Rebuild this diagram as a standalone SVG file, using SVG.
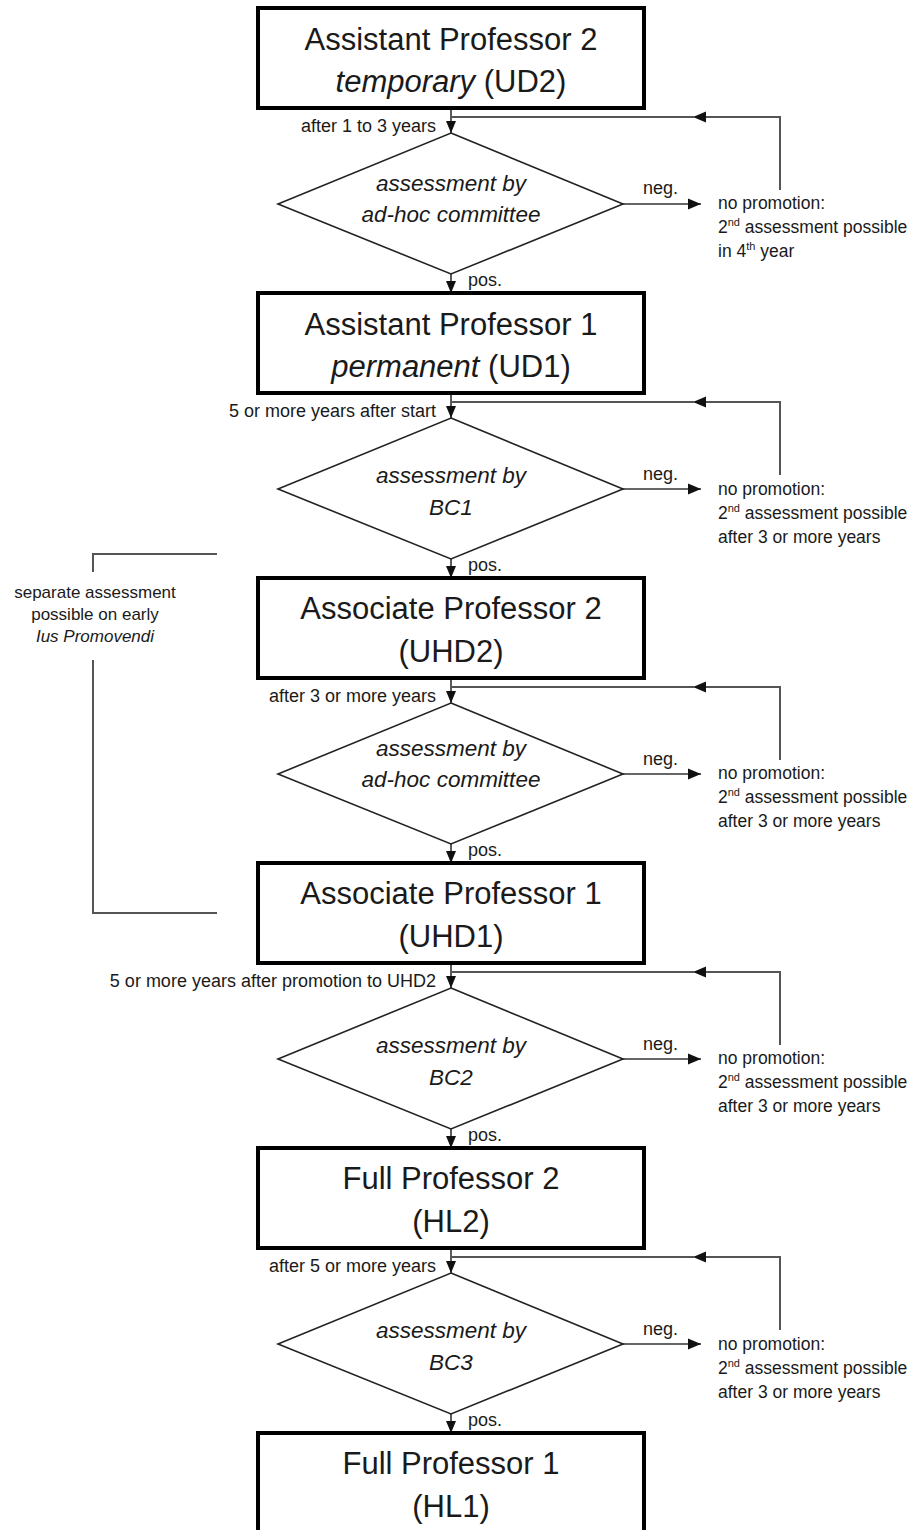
<svg xmlns="http://www.w3.org/2000/svg" width="912" height="1530" viewBox="0 0 912 1530">
<style>
.box{fill:#fff;stroke:#000;stroke-width:4}
.dia{fill:#fff;stroke:#222;stroke-width:1.6}
.ln{fill:none;stroke:#333;stroke-width:1.6}
.gl{fill:none;stroke:#555;stroke-width:2}
.t{font-family:"Liberation Sans",Arial,sans-serif;fill:#1a1a1a}
.ti{font-size:31px;text-anchor:middle}
.di{font-size:22.5px;font-style:italic;text-anchor:middle}
.sm{font-size:18px}
.np{font-size:17.5px}
.xs{font-size:17px}
.it{font-style:italic}
.sup{font-size:11px}
</style>
<defs>
<marker id="ad" markerUnits="userSpaceOnUse" markerWidth="12" markerHeight="11" refX="12" refY="5.5" orient="auto" viewBox="0 0 12 11">
<path d="M0,0.5 L12,5.5 L0,10.5 z" fill="#111"/>
</marker>
<marker id="ab" markerUnits="userSpaceOnUse" markerWidth="13" markerHeight="12" refX="13" refY="6" orient="auto" viewBox="0 0 13 12">
<path d="M0,0.5 L13,6 L0,11.5 z" fill="#111"/>
</marker>
</defs>

<g id="connectors">
<!-- row 0 -->
<line class="ln" x1="451" y1="108" x2="451" y2="133" marker-end="url(#ad)"/>
<line class="ln" x1="451" y1="274" x2="451" y2="293" marker-end="url(#ad)"/>
<line class="ln" x1="623" y1="204" x2="701" y2="204" marker-end="url(#ab)"/>
<path class="gl" d="M780,190 V117 H693" marker-end="url(#ab)"/>
<line class="gl" x1="695" y1="117" x2="451" y2="117"/>
<!-- row 1 -->
<line class="ln" x1="451" y1="393" x2="451" y2="418" marker-end="url(#ad)"/>
<line class="ln" x1="451" y1="559" x2="451" y2="578" marker-end="url(#ad)"/>
<line class="ln" x1="623" y1="489" x2="701" y2="489" marker-end="url(#ab)"/>
<path class="gl" d="M780,475 V402 H693" marker-end="url(#ab)"/>
<line class="gl" x1="695" y1="402" x2="451" y2="402"/>
<!-- row 2 -->
<line class="ln" x1="451" y1="678" x2="451" y2="703" marker-end="url(#ad)"/>
<line class="ln" x1="451" y1="844" x2="451" y2="863" marker-end="url(#ad)"/>
<line class="ln" x1="623" y1="774" x2="701" y2="774" marker-end="url(#ab)"/>
<path class="gl" d="M780,760 V687 H693" marker-end="url(#ab)"/>
<line class="gl" x1="695" y1="687" x2="451" y2="687"/>
<!-- row 3 -->
<line class="ln" x1="451" y1="963" x2="451" y2="988" marker-end="url(#ad)"/>
<line class="ln" x1="451" y1="1129" x2="451" y2="1148" marker-end="url(#ad)"/>
<line class="ln" x1="623" y1="1059" x2="701" y2="1059" marker-end="url(#ab)"/>
<path class="gl" d="M780,1045 V972 H693" marker-end="url(#ab)"/>
<line class="gl" x1="695" y1="972" x2="451" y2="972"/>
<!-- row 4 -->
<line class="ln" x1="451" y1="1248" x2="451" y2="1273" marker-end="url(#ad)"/>
<line class="ln" x1="451" y1="1414" x2="451" y2="1433" marker-end="url(#ad)"/>
<line class="ln" x1="623" y1="1344" x2="701" y2="1344" marker-end="url(#ab)"/>
<path class="gl" d="M780,1330 V1257 H693" marker-end="url(#ab)"/>
<line class="gl" x1="695" y1="1257" x2="451" y2="1257"/>
<!-- left bracket -->
<path class="gl" d="M217,554 H93 V572"/>
<path class="gl" d="M93,660 V913 H217"/>
</g>

<g id="connector-labels" class="t sm">
<text x="436" y="132" text-anchor="end">after 1 to 3 years</text>
<text x="468" y="286">pos.</text>
<text x="643" y="194">neg.</text>
<text x="436" y="417" text-anchor="end">5 or more years after start</text>
<text x="468" y="571">pos.</text>
<text x="643" y="480">neg.</text>
<text x="436" y="702" text-anchor="end">after 3 or more years</text>
<text x="468" y="856">pos.</text>
<text x="643" y="765">neg.</text>
<text x="436" y="987" text-anchor="end">5 or more years after promotion to UHD2</text>
<text x="468" y="1141">pos.</text>
<text x="643" y="1050">neg.</text>
<text x="436" y="1272" text-anchor="end">after 5 or more years</text>
<text x="468" y="1426">pos.</text>
<text x="643" y="1335">neg.</text>
</g>

<g id="box1"><rect class="box" x="258" y="8" width="386" height="100"/>
<text class="t ti" x="451" y="50">Assistant Professor 2</text>
<text class="t ti" x="451" y="92"><tspan class="it">temporary</tspan> (UD2)</text></g>
<g id="dia1"><polygon class="dia" points="451,133 623,204 451,274 278,204"/>
<text class="t di" x="451" y="191">assessment by</text>
<text class="t di" x="451" y="222">ad-hoc committee</text></g>
<g id="np1" class="t np"><text x="718" y="209">no promotion:</text>
<text x="718" y="233">2<tspan class="sup" dy="-7">nd</tspan><tspan dy="7"> assessment possible</tspan></text>
<text x="718" y="257">in 4<tspan class="sup" dy="-7">th</tspan><tspan dy="7"> year</tspan></text></g>

<g id="box2"><rect class="box" x="258" y="293" width="386" height="100"/>
<text class="t ti" x="451" y="335">Assistant Professor 1</text>
<text class="t ti" x="451" y="377"><tspan class="it">permanent</tspan> (UD1)</text></g>
<g id="dia2"><polygon class="dia" points="451,418 623,489 451,559 278,489"/>
<text class="t di" x="451" y="483">assessment by</text>
<text class="t di" x="451" y="515">BC1</text></g>
<g id="np2" class="t np"><text x="718" y="495">no promotion:</text>
<text x="718" y="519">2<tspan class="sup" dy="-7">nd</tspan><tspan dy="7"> assessment possible</tspan></text>
<text x="718" y="543">after 3 or more years</text></g>

<g id="box3"><rect class="box" x="258" y="578" width="386" height="100"/>
<text class="t ti" x="451" y="619">Associate Professor 2</text>
<text class="t ti" x="451" y="662">(UHD2)</text></g>
<g id="dia3"><polygon class="dia" points="451,703 623,774 451,844 278,774"/>
<text class="t di" x="451" y="756">assessment by</text>
<text class="t di" x="451" y="787">ad-hoc committee</text></g>
<g id="np3" class="t np"><text x="718" y="779">no promotion:</text>
<text x="718" y="803">2<tspan class="sup" dy="-7">nd</tspan><tspan dy="7"> assessment possible</tspan></text>
<text x="718" y="827">after 3 or more years</text></g>

<g id="ius" class="t xs" text-anchor="middle"><text x="95" y="598">separate assessment</text>
<text x="95" y="620">possible on early</text>
<text x="95" y="642" class="it">Ius Promovendi</text></g>

<g id="box4"><rect class="box" x="258" y="863" width="386" height="100"/>
<text class="t ti" x="451" y="904">Associate Professor 1</text>
<text class="t ti" x="451" y="947">(UHD1)</text></g>
<g id="dia4"><polygon class="dia" points="451,988 623,1059 451,1129 278,1059"/>
<text class="t di" x="451" y="1053">assessment by</text>
<text class="t di" x="451" y="1085">BC2</text></g>
<g id="np4" class="t np"><text x="718" y="1064">no promotion:</text>
<text x="718" y="1088">2<tspan class="sup" dy="-7">nd</tspan><tspan dy="7"> assessment possible</tspan></text>
<text x="718" y="1112">after 3 or more years</text></g>

<g id="box5"><rect class="box" x="258" y="1148" width="386" height="100"/>
<text class="t ti" x="451" y="1189">Full Professor 2</text>
<text class="t ti" x="451" y="1232">(HL2)</text></g>
<g id="dia5"><polygon class="dia" points="451,1273 623,1344 451,1414 278,1344"/>
<text class="t di" x="451" y="1338">assessment by</text>
<text class="t di" x="451" y="1370">BC3</text></g>
<g id="np5" class="t np"><text x="718" y="1350">no promotion:</text>
<text x="718" y="1374">2<tspan class="sup" dy="-7">nd</tspan><tspan dy="7"> assessment possible</tspan></text>
<text x="718" y="1398">after 3 or more years</text></g>

<g id="box6"><rect class="box" x="258" y="1433" width="386" height="110"/>
<text class="t ti" x="451" y="1474">Full Professor 1</text>
<text class="t ti" x="451" y="1517">(HL1)</text></g>
</svg>
